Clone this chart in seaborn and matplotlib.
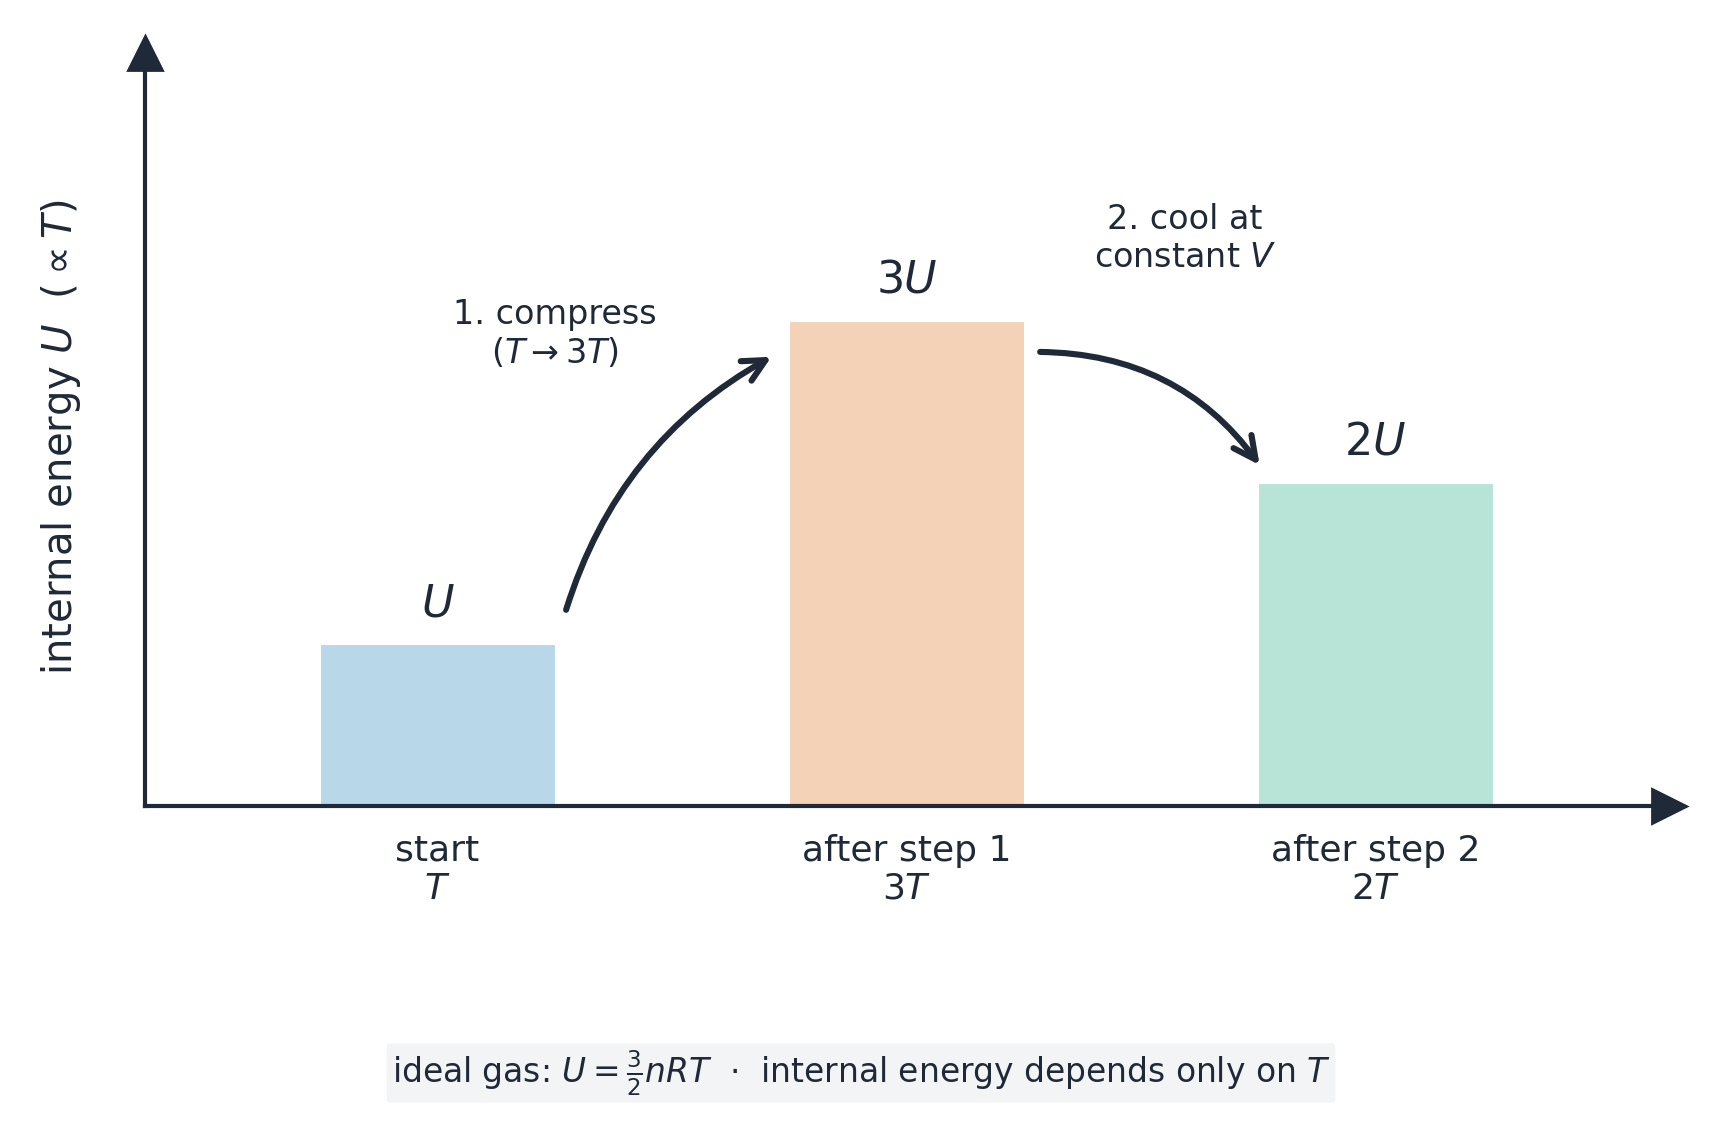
import matplotlib
matplotlib.use("Agg")
import matplotlib.pyplot as plt
import pandas as pd
import numpy as np
import seaborn as sns

# data
stages = ["start", "after step 1", "after step 2"]
temps = ["$T$", "$3T$", "$2T$"]
energy = [1, 3, 2]
energy_labels = ["$U$", "$3U$", "$2U$"]
bar_colors = ["#b8d7e8", "#f3d2b7", "#b8e4d8"]

ink = "#1f2937"

sns.set_theme(style="white")
plt.rcParams["font.family"] = ["DejaVu Sans"]
plt.rcParams["mathtext.fontset"] = "dejavusans"

df = pd.DataFrame({"stage": stages, "energy": energy})

W, H = 1722, 1139
fig = plt.figure(figsize=(W / 200, H / 200), dpi=200)
# axes box in pixels: left spine x=145, bottom spine y=806, right end 1669, top end 53
ax = fig.add_axes([145 / W, (H - 806) / H, (1669 - 145) / W, (806 - 53) / H])

sns.barplot(data=df, x="stage", y="energy", hue="stage", palette=bar_colors,
            width=0.5, legend=False, ax=ax, saturation=1)
for p in ax.patches:
    p.set_edgecolor("white")
    p.set_linewidth(0.4)
    p.set_alpha(1)

ax.set_xlim(-0.624, 2.626)
ax.set_ylim(0, 4.66)

# value labels above bars
for i, (v, lab) in enumerate(zip(energy, energy_labels)):
    ax.text(i, v + 0.12, lab, ha="center", va="bottom", fontsize=16, color=ink)

# tick labels: stage + temperature
ax.set_xticks(range(len(stages)))
ax.set_xticklabels([f"{s}\n{t}" for s, t in zip(stages, temps)],
                   fontsize=13, color=ink, linespacing=1.15)
ax.tick_params(axis="x", length=0, pad=10)
ax.set_yticks([])
ax.set_xlabel("")
ax.set_ylabel("internal energy $U$  ($\\propto T$)", fontsize=14.5, color=ink)
ax.yaxis.set_label_coords(-0.041, 0.49)

# axes as arrows
for side in ["top", "right"]:
    ax.spines[side].set_visible(False)
for side in ["left", "bottom"]:
    ax.spines[side].set_color(ink)
    ax.spines[side].set_linewidth(1.5)
ax.plot(1, 0, ">", transform=ax.transAxes, clip_on=False, ms=12, color=ink)
ax.plot(0, 1, "^", transform=ax.transAxes, clip_on=False, ms=12, color=ink)

# process arrows and notes
ax.annotate("", xy=(0.712, 2.78), xytext=(0.274, 1.214),
            arrowprops=dict(arrowstyle="->", color=ink, lw=2.2, mutation_scale=20,
                            connectionstyle="arc3,rad=-0.2", shrinkA=0, shrinkB=0))
ax.annotate("", xy=(1.753, 2.11), xytext=(1.285, 2.81),
            arrowprops=dict(arrowstyle="->", color=ink, lw=2.2, mutation_scale=20,
                            connectionstyle="arc3,rad=-0.25", shrinkA=0, shrinkB=0))
ax.text(0.25, 2.92, "1. compress\n($T \\rightarrow 3T$)", ha="center", va="center",
        fontsize=12, color=ink, linespacing=1.2)
ax.text(1.594, 3.51, "2. cool at\nconstant $V$", ha="center", va="center",
        fontsize=12, color=ink, linespacing=1.2)

fig.text(0.5, (H - 1073) / H,
         "ideal gas: $U = \\frac{3}{2}nRT$  $\\cdot$  internal energy depends only on $T$",
         ha="center", va="center", fontsize=11.85, color=ink,
         bbox=dict(boxstyle="round,pad=0.15,rounding_size=0.1", fc="#f3f4f6", ec="none"))

fig.savefig("out.png", dpi=200, facecolor="white")
